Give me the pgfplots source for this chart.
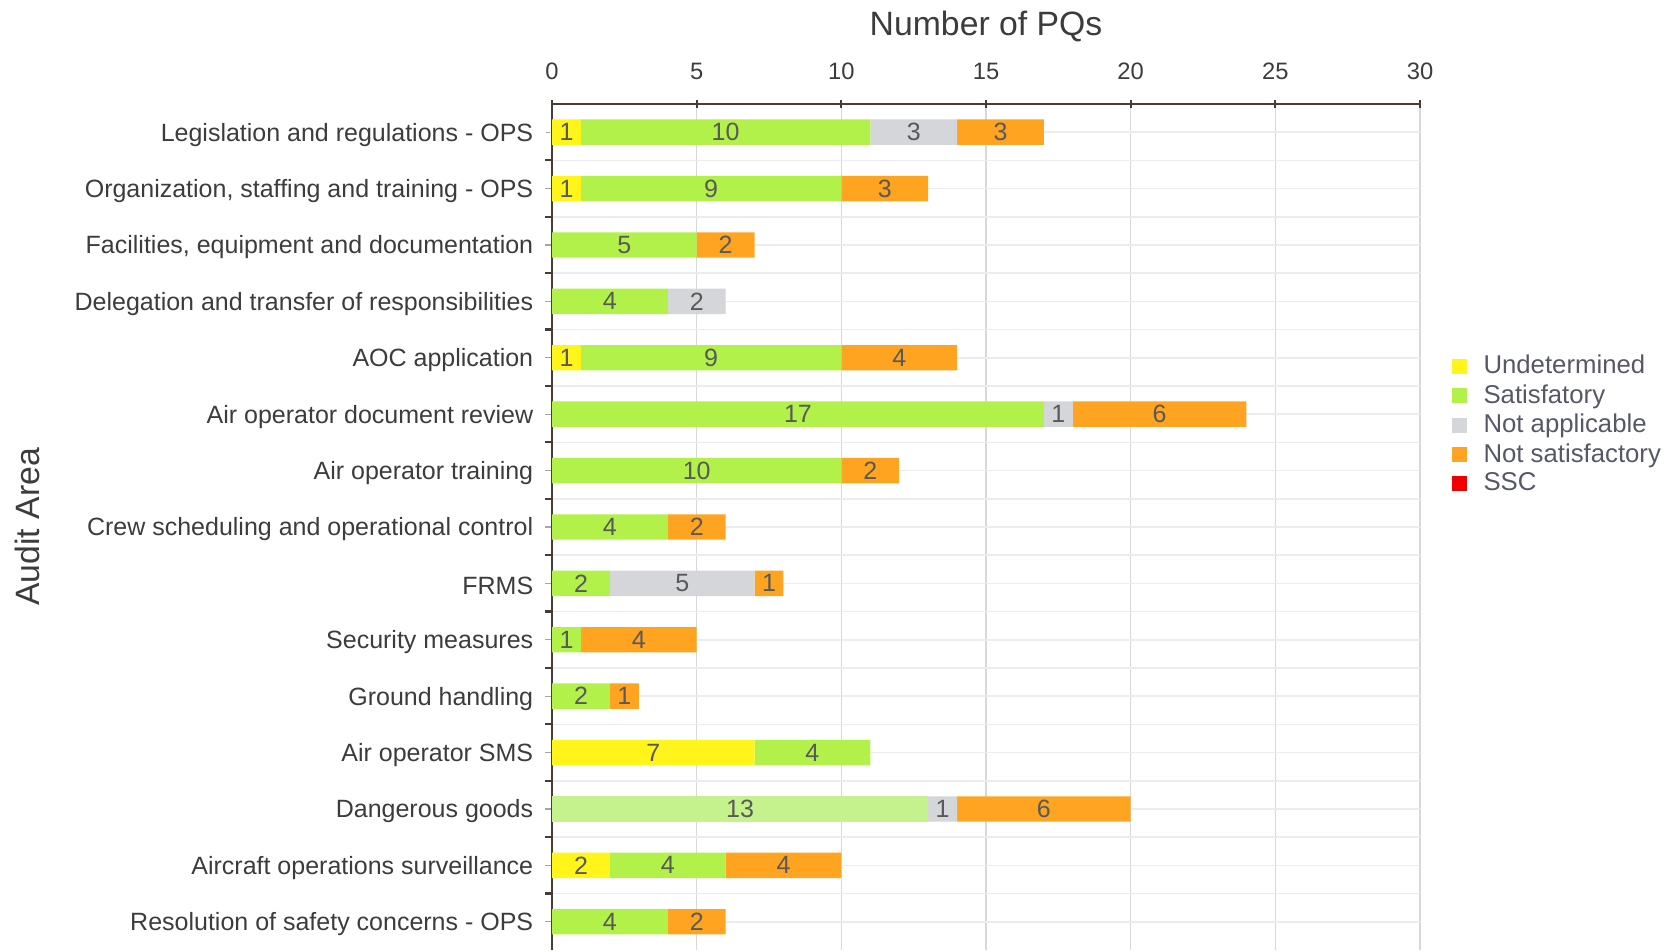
\documentclass[border=0pt]{standalone}
\usepackage{fontspec}
\setmainfont{Liberation Sans}
\usepackage{pgfplots}
\pgfplotsset{compat=1.18}
\definecolor{undet}{HTML}{FFF51A}
\definecolor{satis}{HTML}{B2F04A}
\definecolor{satlight}{HTML}{C6F28E}
\definecolor{notapp}{HTML}{D4D6DA}
\definecolor{notsat}{HTML}{FFA420}
\definecolor{ssc}{HTML}{F00000}
\definecolor{axisdark}{HTML}{4A3C33}
\definecolor{txt}{HTML}{3C3C3C}
\definecolor{legtxt}{HTML}{565866}
\definecolor{gridv}{HTML}{D8D8DC}
\definecolor{gridh}{HTML}{ECECF0}
\pgfplotsset{
  frame/.style={scale only axis, width=347.2pt, height=338.4pt,
    xmin=0, xmax=30, ymin=-0.5, ymax=14.5, clip=false},
}

\begin{document}
\begin{tikzpicture}
\begin{axis}[
  frame,
  xbar stacked,
  bar width=0.45,
  axis x line*=top, axis y line*=left,
  axis line style={axisdark, line width=1pt},
  xtick={0,5,...,30},
  ytick={0,...,14},
  minor y tick num=1,
  yticklabels={Resolution of safety concerns - OPS, Aircraft operations surveillance, Dangerous goods, Air operator SMS, Ground handling, Security measures, FRMS, Crew scheduling and operational control, Air operator training, Air operator document review, AOC application, Delegation and transfer of responsibilities, {Facilities, equipment and documentation}, {Organization, staffing and training - OPS}, Legislation and regulations - OPS},
  xmajorgrids, ymajorgrids, yminorgrids,
  major x grid style={gridv, line width=0.6pt},
  major y grid style={gridh, line width=0.6pt},
  minor y grid style={gridh, line width=0.6pt},
  xtick align=center,
  ytick align=outside,
  major tick length=3pt,
  minor tick length=3pt,
  x tick style={axisdark, line width=0.8pt},
  y tick style={gray, line width=0.5pt},
  major y tick style={gray!70, shorten <=0.7pt, shorten >=0.7pt},
  minor y tick style={axisdark, line width=0.9pt},
  xticklabel style={font=\fontsize{9.5}{11}\selectfont, text=txt, yshift=4.8pt},
  yticklabel style={font=\fontsize{10}{12}\selectfont, text=txt, xshift=-1pt, yshift=-1pt},
  xlabel={Number of PQs},
  xlabel style={at={(axis description cs:0.5,1.092)}, anchor=center,
    font=\fontsize{13.5}{15}\selectfont, text=txt},
  ylabel={Audit Area},
  ylabel style={at={(axis description cs:-0.6048,0.5)}, anchor=center, rotate=0,
    font=\fontsize{13.5}{15}\selectfont, text=txt},
  /pgf/number format/assume math mode=true,
  legend style={at={(1.036,0.6206)}, anchor=west, draw=none, fill=none,
    font=\fontsize{10.3}{11.8}\selectfont, text=legtxt,
    row sep=-1.2pt, inner sep=0pt},
  legend cell align=left,
  legend image code/.code={\fill[#1, draw=none] (0pt,-3pt) rectangle (6pt,3pt); \path (10.5pt,0pt);},
]
\addlegendimage{fill=undet}\addlegendentry{Undetermined}
\addlegendimage{fill=satis}\addlegendentry{Satisfatory}
\addlegendimage{fill=notapp}\addlegendentry{Not applicable}
\addlegendimage{fill=notsat}\addlegendentry{Not satisfactory}
\addlegendimage{fill=ssc}\addlegendentry{SSC}

% Satisfactory, lighter shade (Dangerous goods only)
\addplot[fill=satlight, draw=none] coordinates {
  (0,14)(0,13)(0,12)(0,11)(0,10)(0,9)(0,8)(0,7)(0,6)(0,5)(0,4)(0,3)(13,2)(0,1)(0,0)};
% Undetermined
\addplot[fill=undet, draw=none] coordinates {
  (1,14)(1,13)(0,12)(0,11)(1,10)(0,9)(0,8)(0,7)(0,6)(0,5)(0,4)(7,3)(0,2)(2,1)(0,0)};
% Satisfactory
\addplot[fill=satis, draw=none] coordinates {
  (10,14)(9,13)(5,12)(4,11)(9,10)(17,9)(10,8)(4,7)(2,6)(1,5)(2,4)(4,3)(0,2)(4,1)(4,0)};
% Not applicable
\addplot[fill=notapp, draw=none] coordinates {
  (3,14)(0,13)(0,12)(2,11)(0,10)(1,9)(0,8)(0,7)(5,6)(0,5)(0,4)(0,3)(1,2)(0,1)(0,0)};
% Not satisfactory
\addplot[fill=notsat, draw=none] coordinates {
  (3,14)(3,13)(2,12)(0,11)(4,10)(6,9)(2,8)(2,7)(1,6)(4,5)(1,4)(0,3)(6,2)(4,1)(2,0)};

% page frame: 672pt x 380pt around the axis
\path (axis description cs:-0.636,0) rectangle (axis description cs:1.2995,1.1229);
\end{axis}

% segment labels, in an overlaid axis with the same frame
\begin{axis}[frame, hide axis]
\addplot[sharp plot, draw=none, mark=none,
  nodes near coords, point meta=explicit symbolic,
  every node near coord/.style={anchor=center, inner sep=0pt,
    font=\fontsize{10}{12}\selectfont, text=txt!85}]
  coordinates {
  (0.5,14)[1] (6,14)[10] (12.5,14)[3] (15.5,14)[3]
  (0.5,13)[1] (5.5,13)[9] (11.5,13)[3]
  (2.5,12)[5] (6,12)[2]
  (2,11)[4] (5,11)[2]
  (0.5,10)[1] (5.5,10)[9] (12,10)[4]
  (8.5,9)[17] (17.5,9)[1] (21,9)[6]
  (5,8)[10] (11,8)[2]
  (2,7)[4] (5,7)[2]
  (1,6)[2] (4.5,6)[5] (7.5,6)[1]
  (0.5,5)[1] (3,5)[4]
  (1,4)[2] (2.5,4)[1]
  (3.5,3)[7] (9,3)[4]
  (6.5,2)[13] (13.5,2)[1] (17,2)[6]
  (1,1)[2] (4,1)[4] (8,1)[4]
  (2,0)[4] (5,0)[2]};
\end{axis}
\end{tikzpicture}
\end{document}
